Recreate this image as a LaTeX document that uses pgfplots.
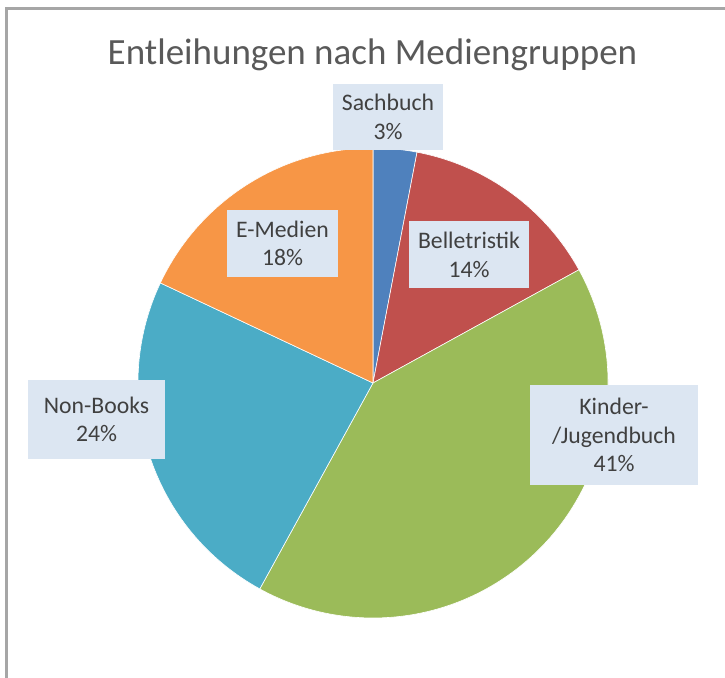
\documentclass[border=0pt]{standalone}
\usepackage{pgfplots}
\pgfplotsset{compat=1.18}
\usepackage{pgfplotstable}
\usepackage{fontspec}
\setmainfont{Carlito}
\definecolor{cSach}{HTML}{4F81BD}
\definecolor{cBell}{HTML}{C0504D}
\definecolor{cKind}{HTML}{9BBB59}
\definecolor{cNon}{HTML}{4BACC6}
\definecolor{cEmed}{HTML}{F79646}
\definecolor{labfill}{HTML}{DCE6F2}
\definecolor{labtxt}{HTML}{404040}
\definecolor{titc}{HTML}{595959}
\definecolor{framec}{HTML}{A6A6A6}
\newcommand\labfont{\fontsize{23.7}{28.4}\selectfont}
\pgfplotstableread{
name value col lx ly bw bh
Sachbuch 3 cSach 388 560 110 66
Belletristik 14 cBell 469 422 120 67
{Kinder-\\/Jugendbuch} 41 cKind 614 242 168 100
Non-Books 24 cNon 96.5 257.5 137 79
E-Medien 18 cEmed 282.5 433.5 111 67
}\pies
\begin{document}
\begin{tikzpicture}
\useasboundingbox (0,0) rectangle (725pt,677pt);
\begin{axis}[x=1pt,y=1pt,xmin=0,xmax=725,ymin=0,ymax=677,axis lines=none,
  at={(0,0)},anchor=south west,clip=false]
\pgfplotstablegetrowsof{\pies}
\pgfmathtruncatemacro\N{\pgfplotsretval-1}
\def\cum{0}
\pgfplotsforeachungrouped \i in {0,...,\N}{%
  \pgfplotstablegetelem{\i}{value}\of\pies \let\v\pgfplotsretval
  \pgfplotstablegetelem{\i}{col}\of\pies \let\c\pgfplotsretval
  \pgfmathsetmacro\sa{90-3.6*\cum}%
  \pgfmathsetmacro\ea{90-3.6*(\cum+\v)}%
  \edef\cmd{\noexpand\fill[\c,draw=white,line width=0.6pt,line join=round] (axis cs:373,294) -- ++(\sa:235pt) arc[start angle=\sa,end angle=\ea,radius=235pt] -- cycle;}%
  \cmd
  \pgfmathsetmacro\cum{\cum+\v}%
}
\pgfplotsforeachungrouped \i in {0,...,\N}{%
  \pgfplotstablegetelem{\i}{value}\of\pies \let\v\pgfplotsretval
  \pgfplotstablegetelem{\i}{name}\of\pies \let\nm\pgfplotsretval
  \pgfplotstablegetelem{\i}{lx}\of\pies \let\lx\pgfplotsretval
  \pgfplotstablegetelem{\i}{ly}\of\pies \let\ly\pgfplotsretval
  \pgfplotstablegetelem{\i}{bw}\of\pies \let\bw\pgfplotsretval
  \pgfplotstablegetelem{\i}{bh}\of\pies \let\bh\pgfplotsretval
  \edef\cmd{\noexpand\node[fill=labfill,text=labtxt,align=center,font=\noexpand\labfont,minimum width=\bw pt,minimum height=\bh pt,inner sep=0pt] at (axis cs:\lx,\ly) {\unexpanded\expandafter{\nm}\noexpand\\\v\noexpand\%};}%
  \cmd
}
\node[text=titc,font=\fontsize{37}{44}\selectfont,anchor=base] at (axis cs:372.5,612) {Entleihungen nach Mediengruppen};
\draw[framec,line width=3pt] (axis cs:6.5,-20) -- (axis cs:6.5,668.5) -- (axis cs:760,668.5);
\end{axis}
\end{tikzpicture}
\end{document}
